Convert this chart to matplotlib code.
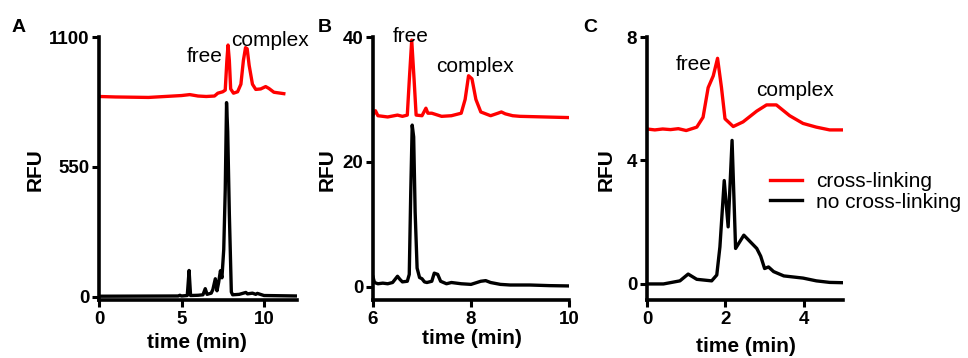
import matplotlib
matplotlib.use("Agg")
import matplotlib.pyplot as plt

plt.rcParams['font.family'] = ['Liberation Sans', 'DejaVu Sans']

# ---------------- Panel A data ----------------
a_red_t = [0, 1, 2, 3, 4, 5, 5.5, 6, 6.5, 7.0, 7.2, 7.35, 7.5, 7.65, 7.75, 7.82,
           7.9, 7.98, 8.15, 8.4, 8.6, 8.75, 8.88, 8.98, 9.1, 9.3, 9.5, 9.8, 10.1,
           10.3, 10.6, 11.2]
a_red_v = [848, 846, 845, 844, 848, 852, 856, 850, 848, 850, 862, 865, 868, 875,
           1000, 1066, 1000, 880, 862, 868, 900, 1000, 1055, 1050, 980, 900, 878,
           880, 890, 882, 866, 860]
a_blk_t = [0, 4.8, 4.9, 5.0, 5.35, 5.46, 5.55, 6.0, 6.3, 6.44, 6.55, 6.8, 6.9,
           7.05, 7.15, 7.25, 7.36, 7.45, 7.56, 7.65, 7.73, 7.8, 7.9, 8.02, 8.1,
           8.5, 8.9, 9.0, 9.3, 9.5, 9.6, 10, 11, 12]
a_blk_v = [2, 3, 6, 3, 5, 111, 5, 6, 8, 34, 10, 15, 30, 76, 25, 60, 110, 80, 200,
           450, 822, 700, 350, 20, 8, 10, 18, 12, 15, 10, 14, 5, 4, 3]

# ---------------- Panel B data ----------------
b_red_t = [6.0, 6.05, 6.1, 6.3, 6.5, 6.6, 6.7, 6.74, 6.79, 6.84, 6.88, 7.0, 7.08,
           7.12, 7.2, 7.4, 7.6, 7.8, 7.88, 7.95, 8.02, 8.1, 8.2, 8.4, 8.55, 8.62,
           8.7, 8.85, 9.0, 9.5, 10.0]
b_red_v = [27.5, 28.2, 27.4, 27.2, 27.5, 27.3, 27.5, 33, 39.5, 33, 27.5, 27.4, 28.6,
           27.8, 27.8, 27.3, 27.4, 27.8, 30, 33.8, 33.3, 30, 28, 27.4, 27.8, 28.0,
           27.7, 27.4, 27.3, 27.2, 27.1]
b_blk_t = [6.0, 6.03, 6.1, 6.2, 6.3, 6.4, 6.5, 6.55, 6.6, 6.7, 6.74, 6.77, 6.8,
           6.83, 6.86, 6.9, 6.95, 7.0, 7.05, 7.1, 7.2, 7.25, 7.32, 7.38, 7.5, 7.6,
           7.8, 8.0, 8.2, 8.3, 8.4, 8.6, 8.8, 9.2, 9.6, 10.0]
b_blk_v = [1.6, 0.7, 0.5, 0.6, 0.5, 0.7, 1.7, 1.2, 0.8, 0.9, 2, 15, 25.9, 24, 12,
           3, 1.5, 1.3, 0.8, 0.7, 0.9, 2.2, 2.0, 0.9, 0.5, 0.7, 0.5, 0.4, 0.9, 1.0,
           0.7, 0.4, 0.3, 0.3, 0.2, 0.15]

# ---------------- Panel C data ----------------
c_red_t = [0, 0.2, 0.4, 0.6, 0.8, 1.0, 1.27, 1.43, 1.56, 1.69, 1.80, 1.90, 1.99,
           2.2, 2.45, 2.8, 3.05, 3.3, 3.64, 3.98, 4.32, 4.66, 5.0]
c_red_v = [5.02, 4.99, 5.02, 5.0, 5.03, 4.97, 5.08, 5.4, 6.36, 6.74, 7.31, 6.36,
           5.35, 5.1, 5.25, 5.6, 5.8, 5.8, 5.45, 5.2, 5.08, 4.99, 4.99]
c_blk_t = [0, 0.42, 0.84, 1.05, 1.27, 1.65, 1.78, 1.86, 1.97, 2.07, 2.17, 2.26,
           2.47, 2.8, 2.9, 3.0, 3.1, 3.23, 3.49, 3.98, 4.32, 4.66, 5.0]
c_blk_v = [0.0, 0.0, 0.1, 0.32, 0.15, 0.1, 0.29, 1.2, 3.35, 1.85, 4.65, 1.15, 1.58,
           1.15, 0.9, 0.5, 0.55, 0.4, 0.26, 0.19, 0.1, 0.05, 0.04]

panels = [
    dict(letter='A', t_red=a_red_t, v_red=a_red_v, t_blk=a_blk_t, v_blk=a_blk_v,
         xlim=(0, 12), ylim=(-14, 1100), xticks=[0, 5, 10], yticks=[0, 550, 1100],
         free=(5.3, 992), complex=(7.98, 1063)),
    dict(letter='B', t_red=b_red_t, v_red=b_red_v, t_blk=b_blk_t, v_blk=b_blk_v,
         xlim=(6, 10), ylim=(-2.1, 40), xticks=[6, 8, 10], yticks=[0, 20, 40],
         free=(6.41, 39.2), complex=(7.29, 34.4)),
    dict(letter='C', t_red=c_red_t, v_red=c_red_v, t_blk=c_blk_t, v_blk=c_blk_v,
         xlim=(0, 5), ylim=(-0.52, 8), xticks=[0, 2, 4], yticks=[0, 4, 8],
         free=(0.74, 6.93), complex=(2.79, 6.1)),
]

W, H = 968, 358
fig = plt.figure(figsize=(W / 100, H / 100), dpi=100)

lefts = [99, 373, 647]
widths = [198, 196, 196]
top_px, bot_px = 37, 300
ylabel_x = [35.5, 327.5, 606.5]
letter_x = [12, 318, 583]
xlabel_y = [342, 338, 346]

for i, p in enumerate(panels):
    ax = fig.add_axes([lefts[i] / W, 1 - bot_px / H, widths[i] / W,
                       (bot_px - top_px) / H])
    ax.plot(p['t_red'], p['v_red'], color='#ff0000', lw=2.4,
            label='cross-linking')
    ax.plot(p['t_blk'], p['v_blk'], color='black', lw=2.4,
            label='no cross-linking')
    ax.set_xlim(*p['xlim'])
    ax.set_ylim(*p['ylim'])
    ax.set_xticks(p['xticks'])
    ax.set_yticks(p['yticks'])
    for s in ['top', 'right']:
        ax.spines[s].set_visible(False)
    for s in ['left', 'bottom']:
        ax.spines[s].set_linewidth(2.6)
    ax.tick_params(width=2.2, length=5, direction='out', labelsize=13.5, pad=2)
    ax.tick_params(axis='x', pad=3)
    for lab in ax.get_xticklabels() + ax.get_yticklabels():
        lab.set_fontweight('bold')
    ax.set_ylabel('RFU', fontsize=15, fontweight='bold')
    ax.yaxis.set_label_coords((ylabel_x[i] - lefts[i]) / widths[i],
                              (bot_px - 170) / (bot_px - top_px))
    ax.yaxis.label.set_verticalalignment('center')
    ax.set_xlabel('time (min)', fontsize=15, fontweight='bold')
    xc = {0: 197, 1: 471.7, 2: 746}[i]
    ax.xaxis.set_label_coords((xc - lefts[i]) / widths[i],
                              (bot_px - xlabel_y[i]) / (bot_px - top_px))
    ax.xaxis.label.set_verticalalignment('center')
    ax.text(p['free'][0], p['free'][1], 'free', fontsize=15, ha='left',
            va='baseline', clip_on=False)
    ax.text(p['complex'][0], p['complex'][1], 'complex', fontsize=15, ha='left',
            va='baseline', clip_on=False)
    fig.text(letter_x[i] / W, 1 - 27 / H, p['letter'], fontsize=14,
             fontweight='bold', ha='left', va='center')
    if i == 2:
        ax.legend(loc='center left',
                  bbox_to_anchor=((770 - lefts[i]) / widths[i],
                                  (bot_px - 192) / (bot_px - top_px)),
                  frameon=False, fontsize=15, borderaxespad=0, borderpad=0,
                  handlelength=1.54, handletextpad=0.67, labelspacing=0.05)

fig.savefig('out.png', dpi=100)
